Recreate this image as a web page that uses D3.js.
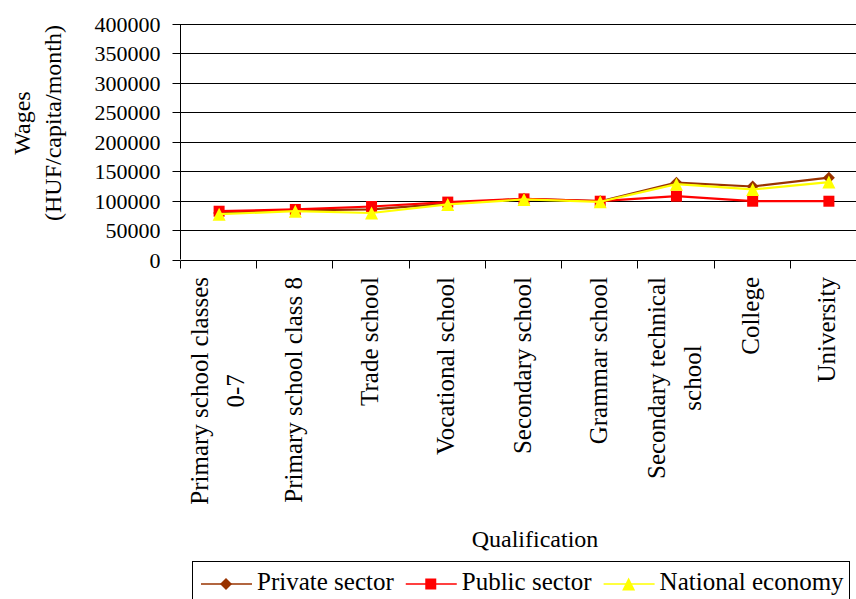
<!DOCTYPE html>
<html>
<head>
<meta charset="utf-8">
<script src="https://cdn.jsdelivr.net/npm/d3@7"></script>
<style>
  html, body { margin: 0; padding: 0; background: #fff; }
  svg { display: block; }
  svg text { font-family: 'Liberation Serif', 'Times New Roman', serif !important; }
</style>
</head>
<body>
<svg id="chart" width="856" height="599"></svg>
<script>
// Average monthly wages by qualification (HUF/capita/month)
const categories = [
  "Primary school classes\n0-7",
  "Primary school class 8",
  "Trade school",
  "Vocational school",
  "Secondary school",
  "Grammar school",
  "Secondary technical\nschool",
  "College",
  "University"
];
const privateSector  = [79000, 83500, 85000, 95000, 103000, 99000, 130500, 124000, 139000];
const publicSector   = [82000, 85000, 90000, 97500, 103000, 99000, 107500, 99000, 99000];
const nationalEconomy = [77000, 82000, 79000, 93500, 102000, 98000, 128000, 119000, 131500];
const seriesNames = ["Private sector", "Public sector", "National economy"];
const yTicks = [0, 50000, 100000, 150000, 200000, 250000, 300000, 350000, 400000];

const series = [
  { name: seriesNames[0], values: privateSector,   color: "#993300", shape: "diamond" },
  { name: seriesNames[1], values: publicSector,    color: "#FF0000", shape: "square" },
  { name: seriesNames[2], values: nationalEconomy, color: "#FFFF00", shape: "triangle" }
];

const FONT = "'Liberation Serif', 'Times New Roman', serif";
const svg = d3.select("#chart").attr("font-family", FONT);

const plot = { left: 181, right: 867, top: 24, bottom: 259.5 };

const x = d3.scaleBand().domain(categories).range([plot.left, plot.right]).paddingInner(0).paddingOuter(0);
const y = d3.scaleLinear().domain([0, 400000]).range([plot.bottom, plot.top]);

// marker path generators, centred on the point
function markerPath(shape, s) {
  const h = s / 2;
  if (shape === "diamond") return `M0,${-h}L${h},0L0,${h}L${-h},0Z`;
  if (shape === "square") return `M${-h},${-h}H${h}V${h}H${-h}Z`;
  return `M0,${-h}L${h},${h}L${-h},${h}Z`;
}
const markerSize = { diamond: 12, square: 11, triangle: 13 };

// horizontal gridlines
svg.append("g")
  .selectAll("line")
  .data(yTicks.slice(1))
  .join("line")
  .attr("x1", plot.left).attr("x2", plot.right)
  .attr("y1", d => Math.round(y(d)) + 0.5).attr("y2", d => Math.round(y(d)) + 0.5)
  .attr("stroke", "#000").attr("stroke-width", 1);

// y axis
const yAxis = svg.append("g")
  .attr("transform", `translate(${plot.left - 0.5},0)`)
  .call(d3.axisLeft(y).tickValues(yTicks).tickFormat(d3.format("d")).tickSize(8).tickPadding(12));
yAxis.attr("font-family", FONT).attr("font-size", 22);
yAxis.select(".domain").attr("stroke", "#000").attr("d", `M-0,${plot.top}V${plot.bottom}`);
yAxis.selectAll(".tick line").attr("stroke", "#000");
yAxis.selectAll(".tick text")
  .attr("font-family", FONT)
  .attr("font-size", 22).attr("fill", "#000");
yAxis.selectAll(".tick").attr("transform", d => `translate(0,${Math.round(y(d)) + 0.5})`);

// x axis line and tick marks at band boundaries
const xb = Math.round(y(0)) + 0.5;
svg.append("line")
  .attr("x1", plot.left).attr("x2", plot.right)
  .attr("y1", xb).attr("y2", xb)
  .attr("stroke", "#000");
const bounds = categories.map(c => x(c)).concat([x.range()[1]]);
svg.append("g")
  .selectAll("line")
  .data(bounds)
  .join("line")
  .attr("x1", d => Math.round(d) - 0.5).attr("x2", d => Math.round(d) - 0.5)
  .attr("y1", xb).attr("y2", xb + 8)
  .attr("stroke", "#000");

// rotated category labels, reading upward and ending just below the axis
const labelTop = 277;
const lineH = 36;
categories.forEach(c => {
  const lines = c.split("\n");
  const cx = x(c) + x.bandwidth() / 2;
  const g = svg.append("g").attr("transform", `translate(${cx},${labelTop}) rotate(-90)`);
  const texts = lines.map((ln, i) =>
    g.append("text")
      .attr("font-family", FONT)
      .attr("font-size", 25)
      .attr("fill", "#000")
      .attr("y", 6.5 + (i - (lines.length - 1) / 2) * lineH)
      .text(ln)
  );
  if (lines.length === 1) {
    texts[0].attr("text-anchor", "end").attr("x", 0);
  } else {
    const maxLen = d3.max(texts, t => t.node().getComputedTextLength());
    texts.forEach(t => t.attr("text-anchor", "middle").attr("x", -maxLen / 2));
  }
});

// y axis title
const yTitle = svg.append("g").attr("transform", "translate(0,123) rotate(-90)");
yTitle.append("text").attr("font-family", FONT).attr("text-anchor", "middle").attr("y", 30).attr("font-size", 24).text("Wages");
yTitle.append("text").attr("font-family", FONT).attr("text-anchor", "middle").attr("y", 61).attr("font-size", 24).text("(HUF/capita/month)");

// x axis title
svg.append("text")
  .attr("font-family", FONT)
  .attr("x", 535).attr("y", 547)
  .attr("text-anchor", "middle").attr("font-size", 24)
  .text("Qualification");

// series lines and markers
const line = d3.line()
  .x((d, i) => x(categories[i]) + x.bandwidth() / 2)
  .y(d => y(d));

series.forEach(s => {
  const g = svg.append("g");
  g.append("path")
    .attr("d", line(s.values))
    .attr("fill", "none")
    .attr("stroke", s.color)
    .attr("stroke-width", 2.2)
    .attr("stroke-linejoin", "round");
  g.selectAll("path.m")
    .data(s.values)
    .join("path")
    .attr("class", "m")
    .attr("transform", (d, i) => `translate(${x(categories[i]) + x.bandwidth() / 2},${y(d)})`)
    .attr("d", markerPath(s.shape, markerSize[s.shape]))
    .attr("fill", s.color);
});

// legend
const legend = svg.append("g");
legend.append("rect")
  .attr("x", 192.5).attr("y", 561.5)
  .attr("width", 657).attr("height", 60)
  .attr("fill", "#fff").attr("stroke", "#000").attr("stroke-width", 1);

let lx = 201;
const ly = 584;
series.forEach(s => {
  legend.append("line")
    .attr("x1", lx).attr("x2", lx + 51)
    .attr("y1", ly).attr("y2", ly)
    .attr("stroke", s.color).attr("stroke-width", 1.6);
  legend.append("path")
    .attr("transform", `translate(${lx + 25},${ly})`)
    .attr("d", markerPath(s.shape, markerSize[s.shape]))
    .attr("fill", s.color);
  const t = legend.append("text")
    .attr("font-family", FONT)
    .attr("x", lx + 56).attr("y", 590)
    .attr("font-size", 25).attr("fill", "#000")
    .text(s.name);
  lx = lx + 56 + t.node().getComputedTextLength() + 12;
});
</script>
</body>
</html>
